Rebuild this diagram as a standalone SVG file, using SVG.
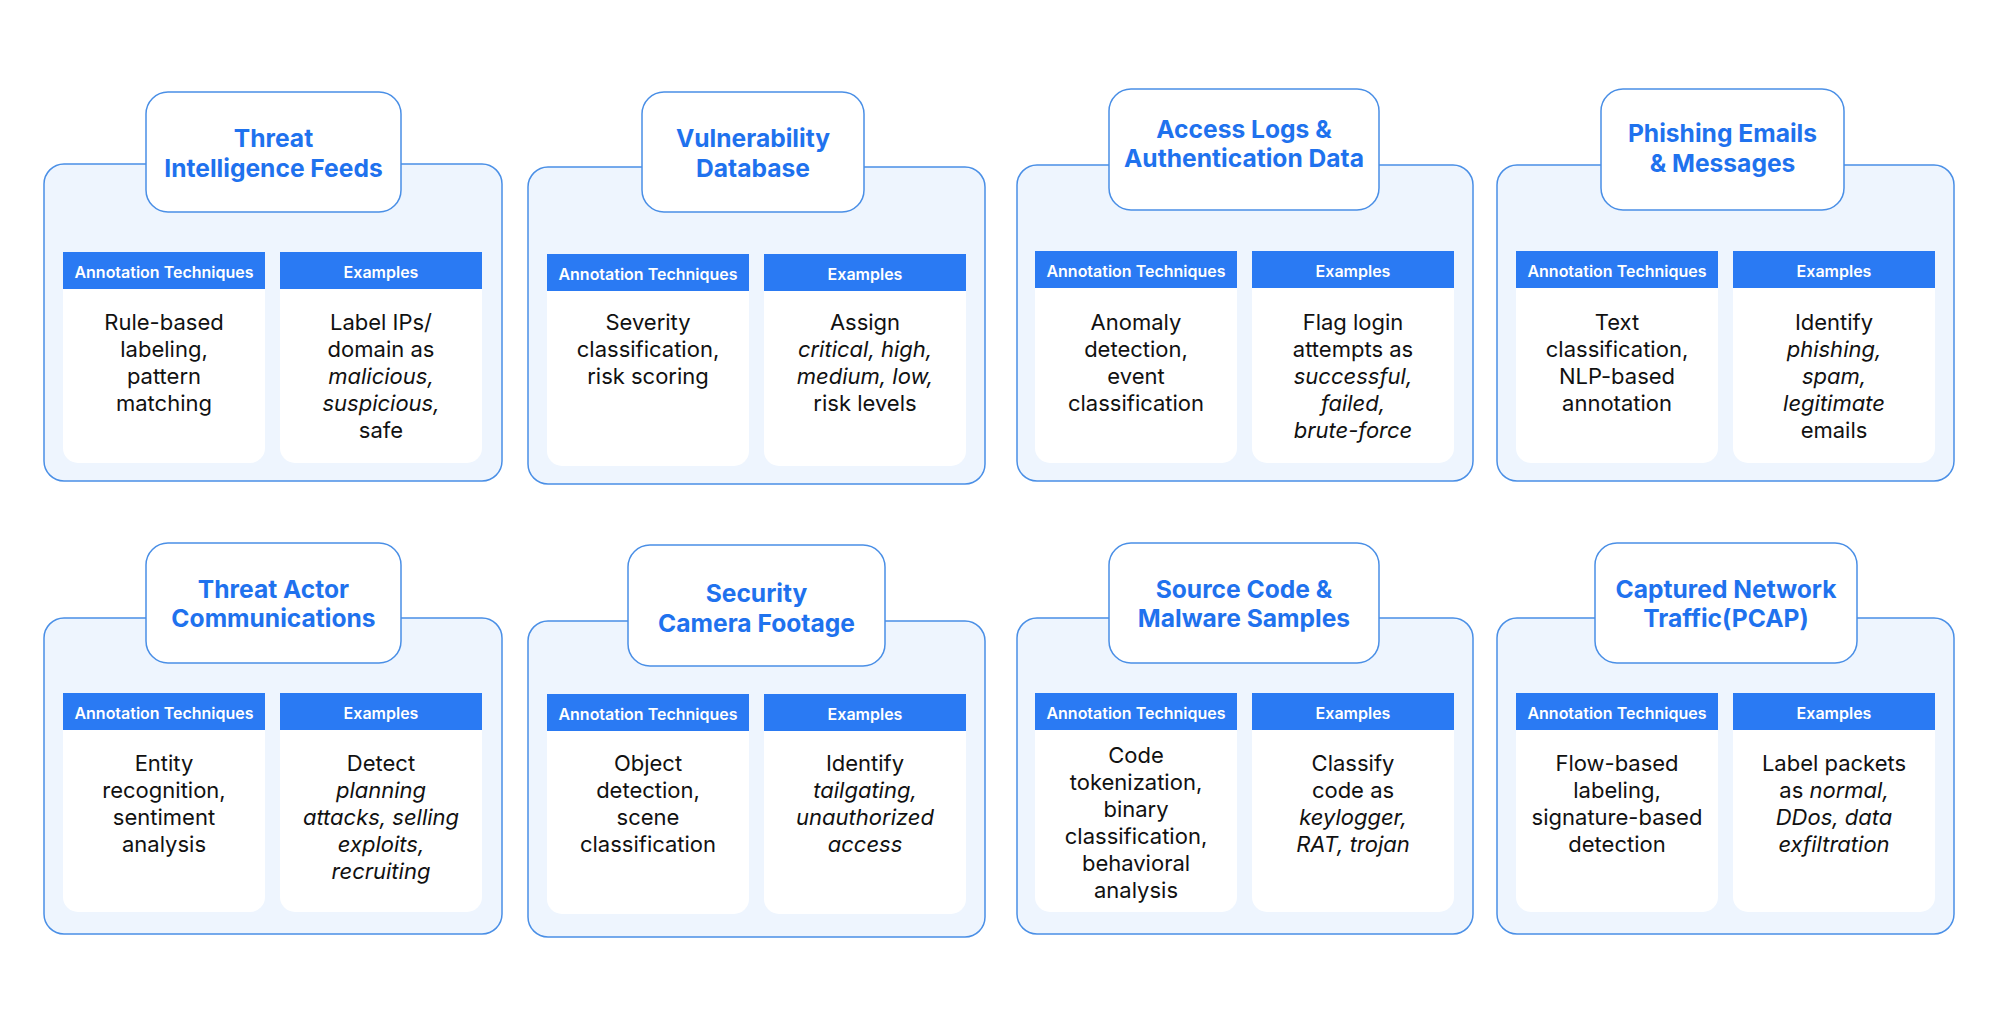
<svg xmlns="http://www.w3.org/2000/svg" width="2000" height="1028" viewBox="0 0 2000 1028">
<style>
.outer{fill:#EEF5FE;stroke:#4A8FE6;stroke-width:1.5}
.title{fill:#FFFFFF;stroke:#4A8FE6;stroke-width:1.5}
.cell{fill:#FFFFFF}
.hdr{fill:#2A7AF3}
.tt{font-family:Inter,"Liberation Sans",sans-serif;font-size:24.6px;font-weight:700;fill:#1F72EE;text-anchor:middle}
.ht{font-family:Inter,"Liberation Sans",sans-serif;font-size:16px;font-weight:600;fill:#FFFFFF;text-anchor:middle}
.bt{font-family:Inter,"Liberation Sans",sans-serif;font-size:22px;font-weight:400;fill:#111111;text-anchor:middle}
.i{font-style:italic}
</style>
<rect x="0" y="0" width="2000" height="1028" fill="#FFFFFF"/>
<g id="connectors"/>

<g id="node-threat-intelligence-feeds">
<rect class="outer" x="44" y="164" width="458" height="317" rx="20"/>
<rect class="title" x="146" y="92" width="255" height="120" rx="22"/>
<text class="tt" x="273.5" y="147">Threat</text>
<text class="tt" x="273.5" y="177">Intelligence Feeds</text>
<rect class="cell" x="63" y="252" width="202" height="211" rx="15"/>
<rect class="hdr" x="63" y="252" width="202" height="37"/>
<text class="ht" x="164" y="278">Annotation Techniques</text>
<rect class="cell" x="280" y="252" width="202" height="211" rx="15"/>
<rect class="hdr" x="280" y="252" width="202" height="37"/>
<text class="ht" x="381" y="278">Examples</text>
<text class="bt" x="164" y="330">Rule-based</text>
<text class="bt" x="164" y="357">labeling,</text>
<text class="bt" x="164" y="384">pattern</text>
<text class="bt" x="164" y="411">matching</text>
<text class="bt" x="381" y="330">Label IPs/</text>
<text class="bt" x="381" y="357">domain as</text>
<text class="bt i" x="381" y="384">malicious,</text>
<text class="bt i" x="381" y="411">suspicious,</text>
<text class="bt" x="381" y="438">safe</text>
</g>

<g id="node-vulnerability-database">
<rect class="outer" x="528" y="167" width="457" height="317" rx="20"/>
<rect class="title" x="642" y="92" width="222" height="120" rx="22"/>
<text class="tt" x="753" y="147">Vulnerability</text>
<text class="tt" x="753" y="177">Database</text>
<rect class="cell" x="547" y="254" width="202" height="212" rx="15"/>
<rect class="hdr" x="547" y="254" width="202" height="37"/>
<text class="ht" x="648" y="280">Annotation Techniques</text>
<rect class="cell" x="764" y="254" width="202" height="212" rx="15"/>
<rect class="hdr" x="764" y="254" width="202" height="37"/>
<text class="ht" x="865" y="280">Examples</text>
<text class="bt" x="648" y="330">Severity</text>
<text class="bt" x="648" y="357">classification,</text>
<text class="bt" x="648" y="384">risk scoring</text>
<text class="bt" x="865" y="330">Assign</text>
<text class="bt i" x="865" y="357">critical, high,</text>
<text class="bt i" x="865" y="384">medium, low,</text>
<text class="bt" x="865" y="411">risk levels</text>
</g>

<g id="node-access-logs">
<rect class="outer" x="1017" y="165" width="456" height="316" rx="20"/>
<rect class="title" x="1109" y="89" width="270" height="121" rx="22"/>
<text class="tt" x="1244" y="138">Access Logs &amp;</text>
<text class="tt" x="1244" y="167">Authentication Data</text>
<rect class="cell" x="1035" y="251" width="202" height="212" rx="15"/>
<rect class="hdr" x="1035" y="251" width="202" height="37"/>
<text class="ht" x="1136" y="277">Annotation Techniques</text>
<rect class="cell" x="1252" y="251" width="202" height="212" rx="15"/>
<rect class="hdr" x="1252" y="251" width="202" height="37"/>
<text class="ht" x="1353" y="277">Examples</text>
<text class="bt" x="1136" y="330">Anomaly</text>
<text class="bt" x="1136" y="357">detection,</text>
<text class="bt" x="1136" y="384">event</text>
<text class="bt" x="1136" y="411">classification</text>
<text class="bt" x="1353" y="330">Flag login</text>
<text class="bt" x="1353" y="357">attempts as</text>
<text class="bt i" x="1353" y="384">successful,</text>
<text class="bt i" x="1353" y="411">failed,</text>
<text class="bt i" x="1353" y="438">brute-force</text>
</g>

<g id="node-phishing-emails">
<rect class="outer" x="1497" y="165" width="457" height="316" rx="20"/>
<rect class="title" x="1601" y="89" width="243" height="121" rx="22"/>
<text class="tt" x="1722.5" y="142">Phishing Emails</text>
<text class="tt" x="1722.5" y="172">&amp; Messages</text>
<rect class="cell" x="1516" y="251" width="202" height="212" rx="15"/>
<rect class="hdr" x="1516" y="251" width="202" height="37"/>
<text class="ht" x="1617" y="277">Annotation Techniques</text>
<rect class="cell" x="1733" y="251" width="202" height="212" rx="15"/>
<rect class="hdr" x="1733" y="251" width="202" height="37"/>
<text class="ht" x="1834" y="277">Examples</text>
<text class="bt" x="1617" y="330">Text</text>
<text class="bt" x="1617" y="357">classification,</text>
<text class="bt" x="1617" y="384">NLP-based</text>
<text class="bt" x="1617" y="411">annotation</text>
<text class="bt" x="1834" y="330">Identify</text>
<text class="bt i" x="1834" y="357">phishing,</text>
<text class="bt i" x="1834" y="384">spam,</text>
<text class="bt i" x="1834" y="411">legitimate</text>
<text class="bt" x="1834" y="438">emails</text>
</g>

<g id="node-threat-actor-communications">
<rect class="outer" x="44" y="618" width="458" height="316" rx="20"/>
<rect class="title" x="146" y="543" width="255" height="120" rx="22"/>
<text class="tt" x="273.5" y="598">Threat Actor</text>
<text class="tt" x="273.5" y="627">Communications</text>
<rect class="cell" x="63" y="693" width="202" height="219" rx="15"/>
<rect class="hdr" x="63" y="693" width="202" height="37"/>
<text class="ht" x="164" y="719">Annotation Techniques</text>
<rect class="cell" x="280" y="693" width="202" height="219" rx="15"/>
<rect class="hdr" x="280" y="693" width="202" height="37"/>
<text class="ht" x="381" y="719">Examples</text>
<text class="bt" x="164" y="771">Entity</text>
<text class="bt" x="164" y="798">recognition,</text>
<text class="bt" x="164" y="825">sentiment</text>
<text class="bt" x="164" y="852">analysis</text>
<text class="bt" x="381" y="771">Detect</text>
<text class="bt i" x="381" y="798">planning</text>
<text class="bt i" x="381" y="825">attacks, selling</text>
<text class="bt i" x="381" y="852">exploits,</text>
<text class="bt i" x="381" y="879">recruiting</text>
</g>

<g id="node-security-camera-footage">
<rect class="outer" x="528" y="621" width="457" height="316" rx="20"/>
<rect class="title" x="628" y="545" width="257" height="121" rx="22"/>
<text class="tt" x="756.5" y="602">Security</text>
<text class="tt" x="756.5" y="632">Camera Footage</text>
<rect class="cell" x="547" y="694" width="202" height="220" rx="15"/>
<rect class="hdr" x="547" y="694" width="202" height="37"/>
<text class="ht" x="648" y="720">Annotation Techniques</text>
<rect class="cell" x="764" y="694" width="202" height="220" rx="15"/>
<rect class="hdr" x="764" y="694" width="202" height="37"/>
<text class="ht" x="865" y="720">Examples</text>
<text class="bt" x="648" y="771">Object</text>
<text class="bt" x="648" y="798">detection,</text>
<text class="bt" x="648" y="825">scene</text>
<text class="bt" x="648" y="852">classification</text>
<text class="bt" x="865" y="771">Identify</text>
<text class="bt i" x="865" y="798">tailgating,</text>
<text class="bt i" x="865" y="825">unauthorized</text>
<text class="bt i" x="865" y="852">access</text>
</g>

<g id="node-source-code-malware">
<rect class="outer" x="1017" y="618" width="456" height="316" rx="20"/>
<rect class="title" x="1109" y="543" width="270" height="120" rx="22"/>
<text class="tt" x="1244" y="598">Source Code &amp;</text>
<text class="tt" x="1244" y="627">Malware Samples</text>
<rect class="cell" x="1035" y="693" width="202" height="219" rx="15"/>
<rect class="hdr" x="1035" y="693" width="202" height="37"/>
<text class="ht" x="1136" y="719">Annotation Techniques</text>
<rect class="cell" x="1252" y="693" width="202" height="219" rx="15"/>
<rect class="hdr" x="1252" y="693" width="202" height="37"/>
<text class="ht" x="1353" y="719">Examples</text>
<text class="bt" x="1136" y="763">Code</text>
<text class="bt" x="1136" y="790">tokenization,</text>
<text class="bt" x="1136" y="817">binary</text>
<text class="bt" x="1136" y="844">classification,</text>
<text class="bt" x="1136" y="871">behavioral</text>
<text class="bt" x="1136" y="898">analysis</text>
<text class="bt" x="1353" y="771">Classify</text>
<text class="bt" x="1353" y="798">code as</text>
<text class="bt i" x="1353" y="825">keylogger,</text>
<text class="bt i" x="1353" y="852">RAT, trojan</text>
</g>

<g id="node-captured-network-traffic">
<rect class="outer" x="1497" y="618" width="457" height="316" rx="20"/>
<rect class="title" x="1595" y="543" width="262" height="120" rx="22"/>
<text class="tt" x="1726" y="598">Captured Network</text>
<text class="tt" x="1726" y="627">Traffic(PCAP)</text>
<rect class="cell" x="1516" y="693" width="202" height="219" rx="15"/>
<rect class="hdr" x="1516" y="693" width="202" height="37"/>
<text class="ht" x="1617" y="719">Annotation Techniques</text>
<rect class="cell" x="1733" y="693" width="202" height="219" rx="15"/>
<rect class="hdr" x="1733" y="693" width="202" height="37"/>
<text class="ht" x="1834" y="719">Examples</text>
<text class="bt" x="1617" y="771">Flow-based</text>
<text class="bt" x="1617" y="798">labeling,</text>
<text class="bt" x="1617" y="825">signature-based</text>
<text class="bt" x="1617" y="852">detection</text>
<text class="bt" x="1834" y="771">Label packets</text>
<text class="bt" x="1834" y="798">as <tspan class="i">normal,</tspan></text>
<text class="bt i" x="1834" y="825">DDos, data</text>
<text class="bt i" x="1834" y="852">exfiltration</text>
</g>
</svg>
